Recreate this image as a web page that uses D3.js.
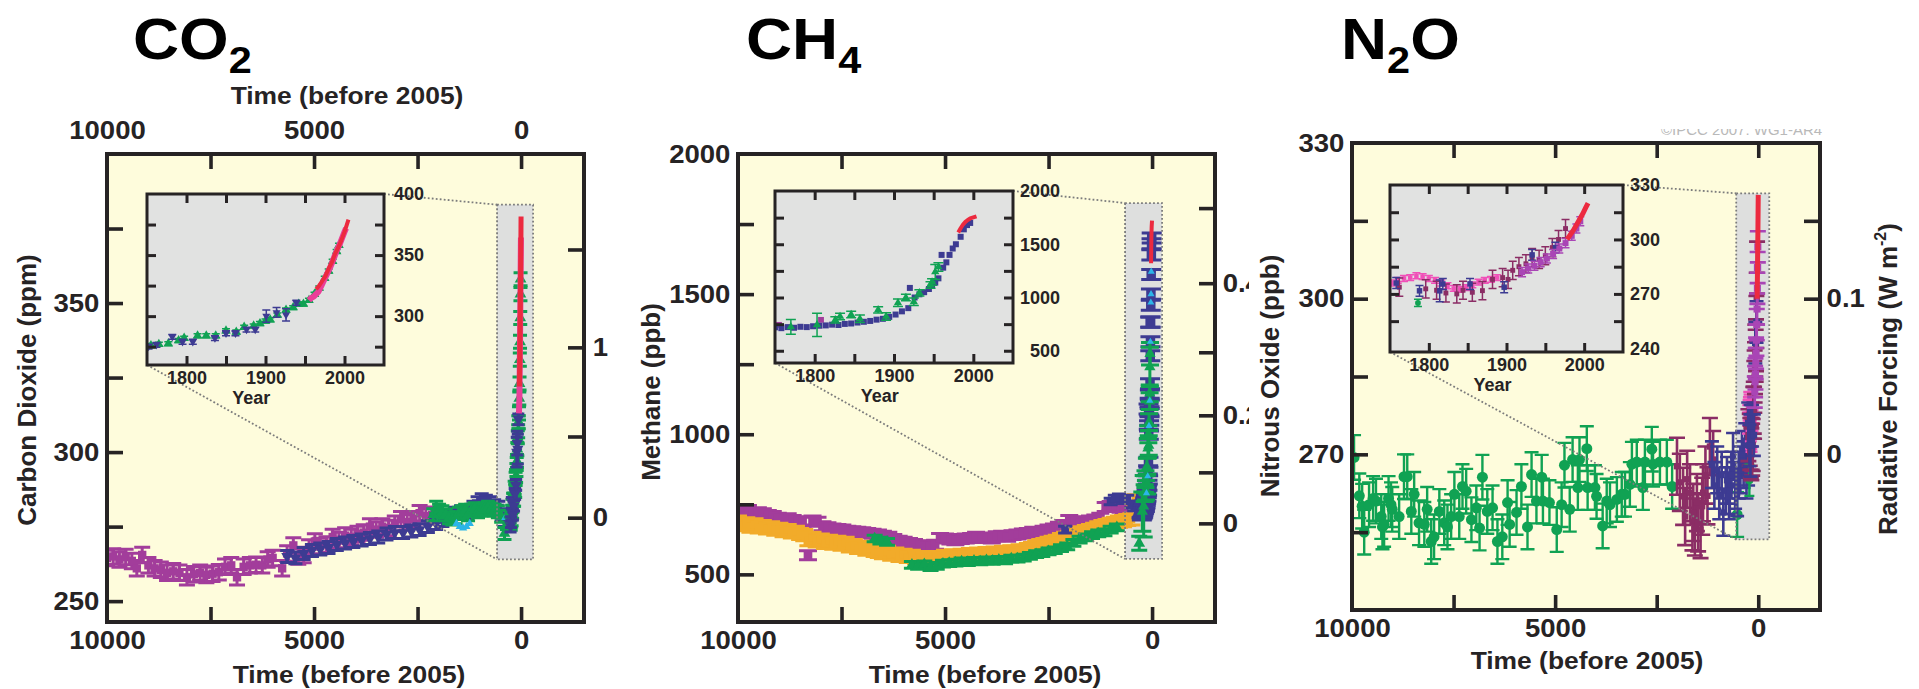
<!DOCTYPE html>
<html><head><meta charset="utf-8">
<script src="https://cdn.jsdelivr.net/npm/d3@7"></script>
<style>
html,body{margin:0;padding:0;background:#fff;}
svg{display:block;font-family:"Liberation Sans",Arial,Helvetica,sans-serif;}
</style></head><body><div id="chart"></div>
<script>
// ---------------- axis ticks / labels ----------------
const timeDomain = [10000, -1520];
const timeTicks = [7500, 5000, 2500, 0];
const timeLabels = [10000, 5000, 0];
const insetYears = [1750, 2050];
const yearTicks = [1800, 1850, 1900, 1950, 2000];
const yearLabels = [1800, 1900, 2000];

const co2Ticks = [250, 275, 300, 325, 350, 375];
const co2Labels = [250, 300, 350];
const co2RFTicks = [0, 0.5, 1, 1.5];
const co2RFLabels = [0, 1];
const co2InsetTicks = [275, 300, 325, 350, 375];
const co2InsetLabels = [300, 350, 400];

const ch4Ticks = [500, 750, 1000, 1250, 1500, 1750];
const ch4Labels = [500, 1000, 1500, 2000];
const ch4RFTicks = [0, 0.1, 0.2, 0.3, 0.4, 0.5];
const ch4RFLabels = [0, 0.2, 0.4];
const ch4InsetTicks = [500, 750, 1000, 1250, 1500, 1750];
const ch4InsetLabels = [500, 1000, 1500, 2000];

const n2oTicks = [255, 270, 285, 300, 315];
const n2oLabels = [270, 300, 330];
const n2oRFTicks = [0, 0.05, 0.1, 0.15];
const n2oRFLabels = [0, 0.1];
const n2oInsetTicks = [255, 270, 285, 300, 315];
const n2oInsetLabels = [240, 270, 300, 330];

// ---------------- CO2 data (time before 2005 / year, ppm) ----------------
const co2DomeC = [[10000,264.5],[9850,265],[9700,264],[9550,264.8],[9400,263.5],[9280,261],[9150,265.5],[9000,262],[8850,261],[8700,260.5],[8550,259.5],[8400,260],[8250,259.5],[8070,258],[7900,259],[7750,259.5],[7600,258.8],[7450,259.2],[7300,259.7],[7150,261.5],[7000,262],[6860,258],[6700,261.5],[6550,262],[6400,262.2],[6250,262],[6120,264],[6000,264.5],[5770,261],[5650,266],[5500,268.7],[5380,265],[5250,265.5],[5120,268],[4980,270],[4850,268.5],[4700,269],[4550,271.5],[4400,270.5],[4250,272],[4100,271.5],[3950,272.5],[3800,273],[3650,275],[3500,274],[3350,275],[3200,274.5],[3050,276],[2900,277.5],[2750,276.5],[2600,277.5],[2450,279.5],[2300,278.5],[2150,279]];
const co2TaylorOld = [[5650,265],[5450,264.5],[5250,266],[5050,267],[4850,267.5],[4650,268],[4450,269],[4250,269.5],[4050,270],[3850,270.5],[3650,271],[3450,271.5],[3250,272.5],[3050,273],[2850,273],[2650,273.5],[2450,274],[2250,275],[2050,276],[1900,277],[1750,278.5],[1600,279.5],[1450,280],[1300,279.5],[1150,281.5],[1050,283],[950,284],[850,283.5],[750,283],[650,282],[550,281.5],[470,279],[400,277],[330,276.5]];
const co2LawOld = [[2120,279],[2050,281.5],[1980,280.5],[1900,280],[1820,279],[1740,278],[1660,277.5],[1580,278],[1500,279.5],[1430,280],[1350,280.5],[1280,279],[1200,280.5],[1120,281],[1040,280],[960,280.5],[880,281],[800,281.5],[720,281],[640,280.5],[560,280],[480,278.5],[400,272.7],[340,276]];
const co2Siple = [[1560,276],[1480,275],[1400,274.5],[1320,275],[1240,276],[380,278]];
const co2LawRecent = [[1755,276],[1765,277],[1777,277.5],[1790,280],[1797,282],[1814,284],[1825,284],[1837,284],[1850,288],[1863,287],[1873,291],[1885,292],[1893,294],[1900,296],[1906,297],[1915,301],[1926,305],[1935,307],[1942,310],[1948,310],[1955,313],[1962,318],[1968,323],[1975,331],[1980,337],[1985,345],[1990,353],[1993,358]];
const co2TaylorRecent = [[1752,275],[1762,276.5],[1782,283],[1795,279],[1808,279],[1836,282],[1850,286],[1862,286],[1876,289],[1887,289],[1901,300,5],[1914,303,4],[1926,301,5],[1939,311]];
const co2Firn = [[1955,313],[1958,315],[1961,316],[1964,318],[1967,320],[1970,324],[1973,328],[1976,332],[1979,336],[1982,340],[1985,345],[1988,350],[1991,355],[1994,359],[1997,364],[2000,369],[2002,372]];
const co2MaunaLoa = [[1964,322],[1968,325],[1972,329],[1976,333],[1980,339],[1984,344],[1988,351],[1992,356],[1996,362],[2000,369],[2003,375],[2005,379]];

// ---------------- CH4 data (ppb) ----------------
const ch4Purple = [[10000,728],[9880,722],[9760,730],[9640,716],[9520,722],[9400,718],[9280,712],[9160,708],[9040,702],[8920,698],[8800,700],[8680,694],[8560,690],[8440,688],[8310,568],[8200,692],[8080,688],[7960,672],[7840,668],[7720,664],[7600,662],[7480,660],[7360,656],[7240,654],[7120,652],[7000,650],[6880,648],[6750,645],[6620,642],[6500,638],[6370,634],[6250,626],[6120,620],[6000,616],[5870,612],[5750,608],[5620,604],[5500,602],[5370,600],[5240,606],[5120,630],[5000,628],[4870,624],[4750,622],[4620,626],[4500,628],[4370,630],[4250,634],[4120,630],[4000,632],[3870,628],[3750,636],[3620,638],[3500,634],[3370,640],[3250,642],[3120,646],[3000,648],[2870,652],[2750,650],[2620,656],[2500,660],[2370,664],[2250,670],[2120,676],[2000,694],[1870,690],[1750,684],[1620,688],[1500,692],[1370,696],[1250,702],[1120,740],[1000,744],[880,748],[760,738],[680,735]];
const ch4Orange = [[10000,688],[9900,676],[9800,682],[9700,670],[9600,678],[9500,668],[9400,672],[9300,664],[9200,668],[9100,660],[9000,662],[8900,654],[8800,658],[8700,650],[8600,652],[8500,644],[8400,640],[8300,622],[8200,630],[8100,618],[8000,624],[7900,612],[7800,620],[7700,610],[7600,616],[7500,606],[7400,612],[7300,600],[7200,604],[7100,594],[7000,598],[6900,588],[6800,592],[6700,584],[6600,580],[6500,576],[6400,580],[6300,570],[6200,574],[6100,566],[6000,570],[5900,562],[5800,566],[5700,558],[5600,562],[5500,556],[5400,560],[5300,554],[5200,562],[5100,558],[5000,566],[4900,560],[4800,568],[4700,562],[4600,570],[4500,566],[4400,572],[4300,568],[4200,574],[4100,570],[4000,576],[3900,572],[3800,578],[3700,574],[3600,580],[3500,576],[3400,582],[3300,580],[3200,586],[3100,584],[3000,590],[2900,594],[2800,600],[2700,604],[2600,608],[2500,612],[2400,616],[2300,620],[2200,626],[2100,630],[2000,634],[1900,640],[1800,644],[1700,650],[1600,654],[1500,658],[1400,662],[1300,668],[1200,672],[1100,676],[1000,680],[900,684],[800,688],[700,690],[600,694],[500,696],[400,764]];
const ch4GreenOld = [[6700,628],[6560,620],[6400,616],[5800,534],[5650,530],[5500,536],[5350,526],[5200,530],[5050,538],[4900,540],[4750,542],[4600,546],[4450,544],[4300,548],[4150,546],[4000,550],[3850,548],[3700,552],[3550,550],[3400,556],[3250,556],[3100,560],[2950,566],[2800,572],[2650,576],[2500,582],[2350,586],[2200,594],[2050,600],[1900,612],[1750,624],[1600,632],[1450,640],[1300,646],[1150,650],[1000,660],[850,668],[310,611,25]];
const ch4BlueOld = [[2100,660],[1000,760],[900,770],[800,775],[700,765],[600,770],[500,750],[430,739]];
const ch4PurpleRecent = [[1755,743],[1808,790]];
const ch4LawBlue = [[1750,720],[1758,712],[1766,722],[1774,716],[1782,725],[1790,722],[1798,730],[1806,735],[1814,738],[1822,745],[1830,742],[1838,752],[1846,756],[1854,765],[1862,772],[1870,780],[1878,792],[1886,800],[1894,818],[1902,840],[1910,870],[1918,900],[1920,1090],[1926,1000],[1932,1030],[1938,1050],[1944,1080],[1948,1110],[1952,1140],[1956,1180],[1960,1400],[1962,1280],[1966,1330],[1970,1400],[1974,1460],[1978,1500],[1984,1570],[1988,1640],[1992,1680],[1996,1700]];
const ch4LawGreen = [[1770,724,70],[1803,743,110],[1826,790,30],[1832,822,30],[1846,840,30],[1857,800,35],[1880,884,30],[1890,822,35],[1905,950,35],[1915,1000,30],[1925,960,35],[1932,1043,30],[1946,1118,30],[1948,1146,30],[1952,1240,70],[1956,1287,40]];
const ch4Cyan = [[1870,790],[1900,850],[1930,1030],[1950,1120],[1965,1330],[1975,1470],[1980,1500],[1985,1580]];
const ch4Atmos = [[1981,1610],[1984,1650],[1987,1685],[1990,1710],[1993,1728],[1996,1742],[2000,1752],[2004,1762]];

// ---------------- N2O data (ppb) ----------------
const n2oGreenOld = [[9950,269.4],[9820,262],[9750,260],[9700,255],[9580,260.3],[9480,261.5],[9410,261],[9280,258],[9250,256],[9210,256.5],[9100,261.5],[9040,260.3],[9010,259.4],[8840,258],[8720,265.7],[8640,265.7],[8540,259],[8470,262.3],[8350,256.8],[8220,256.5],[8150,259.4],[8050,253.2],[7980,254.1],[7850,259],[7730,256.8],[7650,256],[7560,258],[7480,262.3],[7360,258],[7280,263.8],[7190,262.9],[7060,257.4],[6940,259.7],[6860,255.8],[6790,265.6],[6670,259],[6540,259.7],[6420,253.2],[6300,254.1],[6170,260.7],[6120,256.5],[5950,258.8],[5830,263.8],[5680,256],[5580,266.1],[5460,261],[5330,265.6],[5300,261],[5140,260.7],[4960,255.5],[4840,260.3],[4770,267.9],[4640,259.4],[4570,269],[4440,263.6],[4400,269],[4220,271.1],[4200,263.6],[4020,263.6],[3980,261.9],[3830,256.2],[3730,261],[3650,260.3],[3480,261.3],[3360,262.3],[3280,262.3],[3160,264.2],[3110,268.1],[2990,268.5],[2840,263.6],[2790,268.5],[2620,271],[2590,268.1],[2420,268.5],[2250,268.5],[2120,263.8],[520,258.4]];
const n2oMaroonOld = [[2000,267.7],[1930,264.6],[1850,261.9],[1800,258],[1750,265.2],[1680,262.6],[1620,257],[1600,258.8],[1560,256],[1510,260.7],[1480,256.8],[1420,255.5],[1380,260],[1360,262.6],[1300,266],[1250,262],[1190,271.5],[1110,269]];
const n2oBlueOld = [[1140,268],[1080,264],[1010,267],[960,262],[900,266],[860,258.8],[800,263],[770,265],[720,262],[700,263],[660,266],[620,269.6],[570,264],[520,262.6],[480,266],[440,267],[400,270],[360,268],[320,271.5],[290,266],[250,268.5]];
const n2oPink = [[1752,276],[1760,277.5],[1768,278.5],[1776,279],[1784,280],[1792,279.5],[1800,278.5],[1808,277.5],[1816,276],[1824,274.5],[1832,273],[1840,272.5],[1848,273.5],[1856,275],[1864,276.5],[1872,277.5],[1880,278],[1888,279]];
const n2oBlueRecent = [[1758,276],[1788,271.7],[1814,271.7,6],[1818,275.5],[1853,275.5],[1897,273.7],[1933,291.5],[1963,295.5]];
const n2oGreenRecent = [[1786,265]];
const n2oMaroonRecent = [[1762,273.7],[1796,272.8],[1810,272],[1822,270.5],[1836,270],[1844,272],[1856,270.9],[1869,271.8],[1882,278],[1895,279],[1902,278],[1908,283],[1916,285],[1925,286.6],[1933,290],[1942,289],[1950,291],[1959,295.5],[1967,300],[1976,306]];
const n2oViolet = [[1920,282],[1928,284],[1936,285.5],[1944,287.5],[1952,289.5],[1960,292],[1968,295],[1976,298],[1984,302],[1990,306],[1995,310]];
const n2oAtmos = [[1978,300],[1982,302.5],[1986,305],[1990,308],[1994,311],[1998,314],[2002,317.5],[2005,320]];

// radiative forcing -> concentration
const co2RF = v => 278 * Math.exp(v / 5.35);
const ch4RF = v => Math.pow(Math.sqrt(682) + v / 0.0305, 2);
const n2oRF = v => 270 + 300 * v;

// ---------------- styles ----------------
const INK = '#262324';
const PLOT_BG = '#fefcdc', INSET_BG = '#e1e2e1', BOX_BG = '#dedfde', DOT = '#7c7c7c';
const PURPLE = '#a23d9b', INDIGO = '#3d3b92', GREEN = '#10a253', CYAN = '#2cb5e8',
      RED = '#ec2a3f', PINK = '#ea3f99', ORANGE = '#f2ab2a', MAROON = '#8b2d65',
      VIOLET = '#a945b5', HOTPINK = '#f050b8';
const fmt = d3.format('d');

const svg = d3.select('#chart').append('svg').attr('width', 1919).attr('height', 689);
const defs = svg.append('defs');

const symTypes = {square: d3.symbolSquare, tri: d3.symbolTriangle, tridown: d3.symbolTriangle, circle: d3.symbolCircle};

function drawSeries(g, xs, ys, pts, st, inset) {
  const size = inset ? st.isize : st.size;
  const cap = inset ? st.icap : st.cap;
  const err = inset ? st.ierr : st.err;
  if (st.shape === 'line') {
    g.append('path').datum(pts).attr('fill', 'none').attr('stroke', st.color)
      .attr('stroke-width', inset ? st.iw : st.w).attr('stroke-linejoin', 'round')
      .attr('d', d3.line().x(d => xs(d[0])).y(d => ys(d[1])));
    return;
  }
  if (err) {
    g.selectAll(null).data(pts).join('path').attr('fill', 'none').attr('stroke', st.color)
      .attr('stroke-width', inset ? 1.5 : (st.ew || 2.4))
      .attr('d', d => {
        const e = (d[2] !== undefined ? d[2] : err);
        const X = xs(d[0]), a = ys(d[1] - e), b = ys(d[1] + e);
        return `M${X - cap},${a}H${X + cap}M${X},${a}V${b}M${X - cap},${b}H${X + cap}`;
      });
  }
  g.selectAll(null).data(pts).join('path').attr('fill', st.color)
    .attr('transform', d => `translate(${xs(d[0])},${ys(d[1])})${st.shape === 'tridown' ? ' rotate(180)' : ''}`)
    .attr('d', d3.symbol().type(symTypes[st.shape]).size(size));
}

function styleAxis(a, fs, sw, stretch) {
  a.select('.domain').remove();
  a.attr('font-family', null).attr('font-size', fs).attr('font-weight', 'bold').attr('color', INK);
  a.selectAll('line').attr('stroke-width', sw);
  if (stretch) a.selectAll('text').attr('transform', 'scale(1.1,1)');
  return a;
}
function addAxis(g, gen, tx, ty, fs, sw, stretch) {
  const a = g.append('g').attr('transform', `translate(${tx},${ty})`).call(gen);
  return styleAxis(a, fs, sw, stretch);
}

function drawTitle(g, x, parts) {
  const t = g.append('text').attr('transform', `translate(${x},59) scale(1.12,1)`)
    .attr('font-size', 57).attr('font-weight', 'bold').attr('fill', '#000');
  let inSub = false;
  parts.forEach(([s, sub]) => {
    const ts = t.append('tspan').text(s);
    if (sub) { ts.attr('font-size', 37); if (!inSub) ts.attr('dy', 14); inSub = true; }
    else { if (inSub) ts.attr('dy', -14); inSub = false; }
  });
}

function hText(g, x, y, s, fs) {
  return g.append('text').attr('transform', `translate(${x},${y}) scale(1.1,1)`)
    .attr('text-anchor', 'middle').attr('font-size', fs).attr('font-weight', 'bold').attr('fill', INK).text(s);
}
function vText(g, x, y, s, fs) {
  return g.append('text').attr('transform', `translate(${x},${y}) rotate(-90)`)
    .attr('text-anchor', 'middle').attr('font-size', fs).attr('font-weight', 'bold').attr('fill', INK).text(s);
}

function drawInset(g, p) {
  const I = p.inset;
  const xi = d3.scaleLinear().domain(insetYears).range([I.x0, I.x1]);
  const yi = d3.scaleLinear().domain(I.yDom).range([I.y1, I.y0]);
  g.append('rect').attr('x', I.x0).attr('y', I.y0).attr('width', I.x1 - I.x0).attr('height', I.y1 - I.y0).attr('fill', INSET_BG);
  const cid = 'iclip-' + p.key;
  defs.append('clipPath').attr('id', cid).append('rect')
    .attr('x', I.x0).attr('y', I.y0).attr('width', I.x1 - I.x0).attr('height', I.y1 - I.y0);
  const ig = g.append('g').attr('clip-path', `url(#${cid})`);
  p.series.filter(s => s.years && !s.mainOnly).forEach(s => drawSeries(ig, xi, yi, s.data, s, true));
  g.append('rect').attr('x', I.x0).attr('y', I.y0).attr('width', I.x1 - I.x0).attr('height', I.y1 - I.y0)
    .attr('fill', 'none').attr('stroke', INK).attr('stroke-width', 3);
  addAxis(g, d3.axisTop(xi).tickValues(yearTicks).tickSize(-9).tickFormat(''), 0, I.y0, 18, 3, false);
  addAxis(g, d3.axisBottom(xi).tickValues(yearTicks).tickSize(-9).tickFormat(''), 0, I.y1, 18, 3, false);
  addAxis(g, d3.axisLeft(yi).tickValues(I.ticks).tickSize(-9).tickFormat(''), I.x0, 0, 18, 3, false);
  addAxis(g, d3.axisRight(yi).tickValues(I.ticks).tickSize(-9).tickFormat(''), I.x1, 0, 18, 3, false);
  addAxis(g, d3.axisBottom(xi).tickValues(yearLabels).tickSize(0).tickPadding(6).tickFormat(fmt), 0, I.y1, 18, 0, false);
  const yl = addAxis(g, d3.axisRight(yi).tickValues(I.labels).tickSize(0).tickPadding(I.labelPad).tickFormat(fmt), I.x1, 0, 18, 0, false);
  if (I.anchorEnd) yl.attr('text-anchor', 'end');
  g.append('text').attr('x', xi(1882)).attr('y', I.y1 + 39).attr('text-anchor', 'middle')
    .attr('font-size', 18).attr('font-weight', 'bold').attr('fill', INK).text('Year');
}

function drawPanel(p) {
  const g = svg.append('g');
  if (p.whiteFrom !== undefined)
    g.append('rect').attr('x', p.whiteFrom).attr('y', 0).attr('width', 1919 - p.whiteFrom).attr('height', 689).attr('fill', '#fff');
  const x = d3.scaleLinear().domain(timeDomain).range([p.x0, p.x1]);
  const y = d3.scaleLinear().domain(p.yDom).range([p.y1, p.y0]);
  g.append('rect').attr('x', p.x0).attr('y', p.y0).attr('width', p.x1 - p.x0).attr('height', p.y1 - p.y0).attr('fill', PLOT_BG);
  const cid = 'clip-' + p.key;
  defs.append('clipPath').attr('id', cid).append('rect')
    .attr('x', p.x0).attr('y', p.y0).attr('width', p.x1 - p.x0).attr('height', p.y1 - p.y0);

  const bx0 = x(p.box.t[0]), bx1 = x(p.box.t[1]), by0 = y(p.box.v[1]), by1 = y(p.box.v[0]);
  g.append('rect').attr('x', bx0).attr('y', by0).attr('width', bx1 - bx0).attr('height', by1 - by0).attr('fill', BOX_BG);

  const dg = g.append('g').attr('clip-path', `url(#${cid})`);
  p.series.forEach(s => {
    const xs = s.years ? (t => x(2005 - t)) : x;
    drawSeries(dg, xs, y, s.data, s, false);
  });

  const I = p.inset;
  g.append('rect').attr('x', bx0).attr('y', by0).attr('width', bx1 - bx0).attr('height', by1 - by0)
    .attr('fill', 'none').attr('stroke', DOT).attr('stroke-width', 1.8).attr('stroke-dasharray', '1.8,2.2');
  g.append('path').attr('d', `M${I.x1},${I.y0}L${bx0},${by0}M${I.x0},${I.y1}L${bx0},${by1}`)
    .attr('fill', 'none').attr('stroke', DOT).attr('stroke-width', 1.8).attr('stroke-dasharray', '1.8,2.2');

  drawInset(g, p);

  g.append('rect').attr('x', p.x0).attr('y', p.y0).attr('width', p.x1 - p.x0).attr('height', p.y1 - p.y0)
    .attr('fill', 'none').attr('stroke', INK).attr('stroke-width', 4);

  // tick marks (inward)
  addAxis(g, d3.axisTop(x).tickValues(timeTicks).tickSize(-15).tickFormat(''), 0, p.y0, 24, 3.6, false);
  addAxis(g, d3.axisBottom(x).tickValues(timeTicks).tickSize(-15).tickFormat(''), 0, p.y1, 24, 3.6, false);
  addAxis(g, d3.axisLeft(y).tickValues(p.yTicks).tickSize(-16).tickFormat(''), p.x0, 0, 24, 3.6, false);
  addAxis(g, d3.axisRight(y).tickValues(p.rfTicks.map(p.rf)).tickSize(-16).tickFormat(''), p.x1, 0, 24, 3.6, false);

  // tick labels
  addAxis(g, d3.axisBottom(x).tickValues(timeLabels).tickSize(0).tickPadding(9).tickFormat(fmt), 0, p.y1, 25, 0, true);
  addAxis(g, d3.axisLeft(y).tickValues(p.yLabels).tickSize(0).tickPadding(7).tickFormat(fmt), p.x0, 0, 25, 0, true);
  addAxis(g, d3.axisRight(y).tickValues(p.rfLabels.map(p.rf)).tickSize(0).tickPadding(p.rfPad)
    .tickFormat((d, i) => String(p.rfLabels[i])), p.x1, 0, 25, 0, true);
  if (p.top) {
    addAxis(g, d3.axisTop(x).tickValues(timeLabels).tickSize(0).tickPadding(15).tickFormat(fmt), 0, p.y0, 25, 0, true);
    hText(g, p.xTitleX - 2, p.y0 - 50, 'Time (before 2005)', 24);
  }
  hText(g, p.xTitleX, p.xTitleY, 'Time (before 2005)', 24);
  vText(g, p.yTitleX, p.yTitleY, p.yTitle, 26);
  drawTitle(g, p.titleX, p.titleParts);
  return g;
}

// ---------------- panels ----------------
const co2Panel = {
  key: 'co2', x0: 107, x1: 584, y0: 154, y1: 622, yDom: [243, 400],
  yTicks: co2Ticks, yLabels: co2Labels, rfTicks: co2RFTicks, rfLabels: co2RFLabels, rf: co2RF, rfPad: 8,
  top: true, titleParts: [['CO', 0], ['2', 1]], titleX: 133,
  yTitle: 'Carbon Dioxide (ppm)', yTitleX: 36, yTitleY: 390, xTitleX: 349, xTitleY: 683,
  box: {t: [580, -290], v: [264, 383]},
  inset: {x0: 147, x1: 384, y0: 194, y1: 365, yDom: [260, 400], ticks: co2InsetTicks, labels: co2InsetLabels, labelPad: 10},
  series: [
    {data: co2DomeC, color: PURPLE, shape: 'square', size: 70, err: 2.6, cap: 8, ew: 3},
    {data: co2TaylorOld, color: INDIGO, shape: 'tridown', size: 60, err: 2, cap: 7, ew: 3},
    {data: co2LawOld, color: GREEN, shape: 'tri', size: 60, err: 2, cap: 7, ew: 3},
    {data: co2Siple, color: CYAN, shape: 'tri', size: 30},
    {data: co2LawRecent, years: true, color: GREEN, shape: 'tri', size: 60, err: 2.2, cap: 7, ew: 3, isize: 40, ierr: 1.6, icap: 4},
    {data: co2TaylorRecent, years: true, color: INDIGO, shape: 'tridown', size: 55, err: 1.8, cap: 6, ew: 3, isize: 28, ierr: 2, icap: 4},
    {data: co2Firn, years: true, color: PINK, shape: 'line', w: 6, iw: 6},
    {data: co2MaunaLoa, years: true, color: RED, shape: 'line', w: 5, iw: 4}
  ]
};

const ch4Panel = {
  key: 'ch4', x0: 738, x1: 1215, y0: 154, y1: 622, yDom: [330, 2000],
  yTicks: ch4Ticks, yLabels: ch4Labels, rfTicks: ch4RFTicks, rfLabels: ch4RFLabels, rf: ch4RF, rfPad: 7,
  top: false, titleParts: [['CH', 0], ['4', 1]], titleX: 746,
  yTitle: 'Methane (ppb)', yTitleX: 660, yTitleY: 392, xTitleX: 985, xTitleY: 683,
  box: {t: [652, -242], v: [555, 1825]},
  inset: {x0: 775, x1: 1013, y0: 191, y1: 363, yDom: [385, 2000], ticks: ch4InsetTicks, labels: ch4InsetLabels, labelPad: 47, anchorEnd: true},
  series: [
    {data: ch4Purple, color: PURPLE, shape: 'square', size: 75, err: 16, cap: 9, ew: 3},
    {data: ch4PurpleRecent, years: true, color: PURPLE, shape: 'square', size: 60, err: 12, cap: 7, isize: 34, ierr: 0, icap: 0},
    {data: ch4Orange, color: ORANGE, shape: 'square', size: 60, err: 20, cap: 9, ew: 3},
    {data: ch4GreenOld, color: GREEN, shape: 'tri', size: 60, err: 12, cap: 8, ew: 3},
    {data: ch4BlueOld, color: INDIGO, shape: 'square', size: 60, err: 12, cap: 7, ew: 3},
    {data: ch4LawBlue, years: true, color: INDIGO, shape: 'square', size: 90, err: 18, cap: 10, ew: 3, isize: 36, ierr: 0, icap: 0},
    {data: ch4LawGreen, years: true, color: GREEN, shape: 'tri', size: 55, err: 22, cap: 9, ew: 3, isize: 30, ierr: 20, icap: 5},
    {data: ch4Cyan, years: true, mainOnly: true, color: CYAN, shape: 'tri', size: 22},
    {data: ch4Atmos, years: true, color: RED, shape: 'line', w: 4, iw: 4}
  ]
};

const n2oPanel = {
  key: 'n2o', x0: 1352, x1: 1820, y0: 143, y1: 610, yDom: [240, 330], whiteFrom: 1249,
  yTicks: n2oTicks, yLabels: n2oLabels, rfTicks: n2oRFTicks, rfLabels: n2oRFLabels, rf: n2oRF, rfPad: 6,
  top: false, titleParts: [['N', 0], ['2', 1], ['O', 0]], titleX: 1341,
  yTitle: 'Nitrous Oxide (ppb)', yTitleX: 1279, yTitleY: 376, xTitleX: 1587, xTitleY: 669,
  box: {t: [542, -271], v: [253.6, 320.3]},
  inset: {x0: 1390, x1: 1623, y0: 185, y1: 352, yDom: [238, 330], ticks: n2oInsetTicks, labels: n2oInsetLabels, labelPad: 7},
  series: [
    {data: n2oGreenOld, color: GREEN, shape: 'circle', size: 95, err: 4.3, cap: 7, ew: 2.4},
    {data: n2oMaroonOld, color: MAROON, shape: 'square', size: 40, err: 5.5, cap: 8, ew: 2.6},
    {data: n2oBlueOld, color: INDIGO, shape: 'square', size: 40, err: 4.5, cap: 7, ew: 2.6},
    {data: n2oGreenRecent, years: true, color: GREEN, shape: 'circle', size: 50, err: 3, cap: 5, isize: 26, ierr: 2, icap: 4},
    {data: n2oPink, years: true, color: HOTPINK, shape: 'square', size: 34, err: 2, cap: 6, isize: 20, ierr: 1.6, icap: 4},
    {data: n2oMaroonRecent, years: true, color: MAROON, shape: 'square', size: 40, err: 5, cap: 8, ew: 2.6, isize: 24, ierr: 5, icap: 4},
    {data: n2oBlueRecent, years: true, color: INDIGO, shape: 'square', size: 44, err: 4, cap: 7, ew: 2.6, isize: 30, ierr: 3, icap: 4},
    {data: n2oViolet, years: true, color: VIOLET, shape: 'square', size: 50, err: 3, cap: 8, ew: 2.6, isize: 36, ierr: 2.5, icap: 4},
    {data: n2oAtmos, years: true, color: RED, shape: 'line', w: 5, iw: 5}
  ]
};

drawPanel(co2Panel);
drawPanel(ch4Panel);
const n2oG = drawPanel(n2oPanel);

// N2O right-hand radiative forcing title
const rfT = n2oG.append('text').attr('transform', 'translate(1897,379) rotate(-90)')
  .attr('text-anchor', 'middle').attr('font-size', 26).attr('font-weight', 'bold').attr('fill', INK);
rfT.append('tspan').text('Radiative Forcing (W m');
rfT.append('tspan').attr('font-size', 16).attr('dy', -11).text('-2');
rfT.append('tspan').attr('dy', 11).text(')');

// partially cropped copyright line
defs.append('clipPath').attr('id', 'cpclip').append('rect').attr('x', 1640).attr('y', 129).attr('width', 200).attr('height', 12);
n2oG.append('text').attr('clip-path', 'url(#cpclip)').attr('x', 1661).attr('y', 135)
  .attr('font-size', 15).attr('fill', '#b9b9b9').text('©IPCC 2007: WG1-AR4');
</script></body></html>
